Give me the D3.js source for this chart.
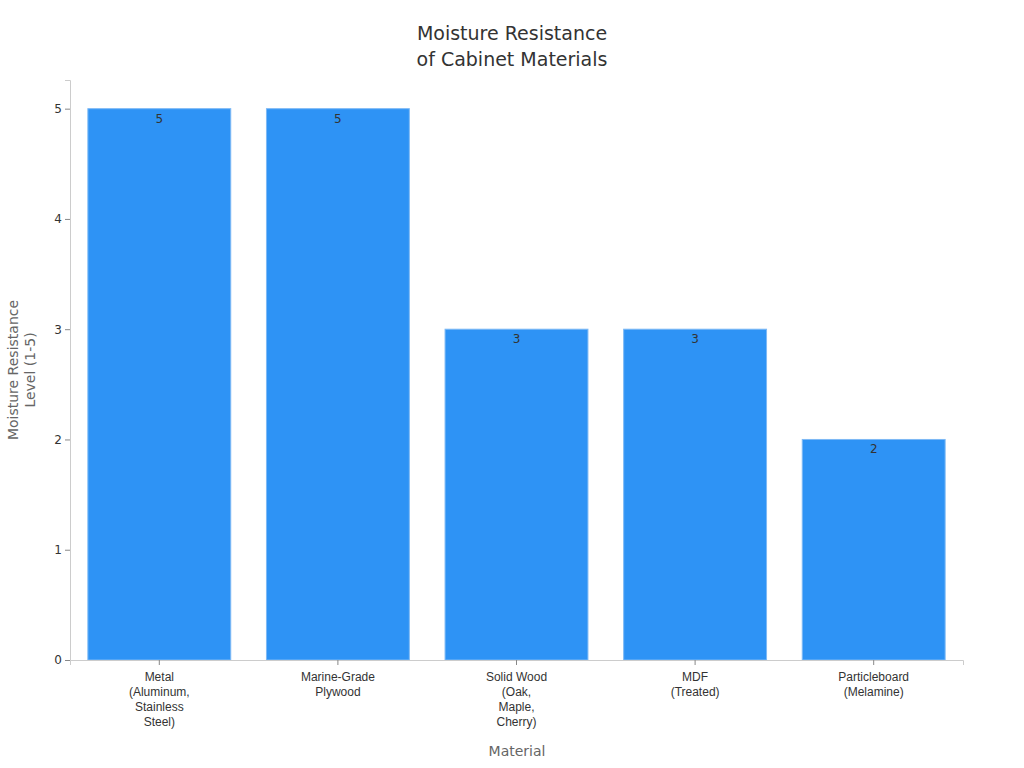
<!DOCTYPE html>
<html><head><meta charset="utf-8">
<script src="https://cdn.jsdelivr.net/npm/d3@7"></script>
<style>body{margin:0;background:#fff;font-family:"DejaVu Sans",sans-serif}</style>
</head><body><svg id="c" width="1024" height="768"></svg>
<script>
const categories = [["Metal","(Aluminum,","Stainless","Steel)"],["Marine-Grade","Plywood"],["Solid Wood","(Oak,","Maple,","Cherry)"],["MDF","(Treated)"],["Particleboard","(Melamine)"]];
const values = [5,5,3,3,2];
const yTicks = [0,1,2,3,4,5];
const svg = d3.select("#c");
const m = {l:70, r:963, t:80, b:660};
const x = d3.scaleBand().domain(d3.range(values.length)).range([m.l,m.r]).paddingInner(0.2).paddingOuter(0.1);
const y = d3.scaleLinear().domain([0,5.26]).range([m.b,m.t]);
svg.append("g").selectAll("rect").data(values).join("rect")
  .attr("x",(d,i)=>x(i)).attr("width",x.bandwidth())
  .attr("y",d=>y(d)).attr("height",d=>y(0)-y(d))
  .attr("fill","#2E93F5").attr("stroke","#7DB9F5").attr("stroke-width",1);
svg.append("g").selectAll("text").data(values).join("text")
  .attr("x",(d,i)=>x(i)+x.bandwidth()/2).attr("y",d=>y(d)+14)
  .attr("text-anchor","middle").attr("font-size",12).attr("fill","#333").text(d=>d);
const ya = svg.append("g").attr("transform",`translate(${m.l},0)`).call(d3.axisLeft(y).tickValues(yTicks).tickSize(5).tickFormat(d3.format("d")));
ya.select(".domain").attr("stroke","#ccc");
ya.selectAll(".tick line").attr("stroke","#888");
ya.selectAll(".tick text").attr("font-size",12).attr("fill","#333").attr("font-family","DejaVu Sans");
const xa = svg.append("g").attr("transform",`translate(0,${m.b})`).call(d3.axisBottom(x).tickSize(5).tickFormat(""));
xa.select(".domain").attr("stroke","#ccc");
xa.selectAll(".tick line").attr("stroke","#888");
xa.selectAll(".tick").each(function(d){
  const t=d3.select(this).append("text").attr("text-anchor","middle").attr("font-size",12).attr("fill","#333").attr("y",21);
  categories[d].forEach((s,k)=>t.append("tspan").attr("x",0).attr("dy",k?15:0).text(s));
});
const title = svg.append("text").attr("x",512).attr("text-anchor","middle").attr("font-size",19).attr("fill","#333");
title.append("tspan").attr("x",512).attr("y",40).text("Moisture Resistance");
title.append("tspan").attr("x",512).attr("y",66).text("of Cabinet Materials");
svg.append("text").attr("x",517).attr("y",756).attr("text-anchor","middle").attr("font-size",14).attr("fill","#666").text("Material");
const yt = svg.append("text").attr("transform","translate(18,370) rotate(-90)").attr("text-anchor","middle").attr("font-size",14).attr("fill","#666");
yt.append("tspan").attr("x",0).attr("y",0).text("Moisture Resistance");
yt.append("tspan").attr("x",0).attr("y",17).text("Level (1-5)");
</script></body></html>
